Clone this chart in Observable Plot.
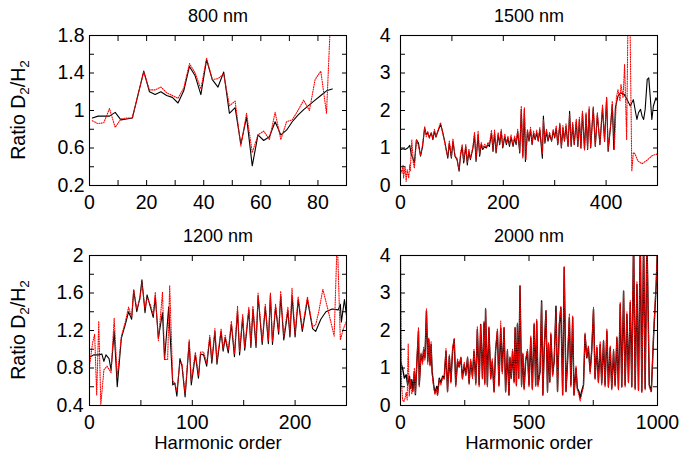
<!DOCTYPE html>
<html><head><meta charset="utf-8">
<script src="https://cdn.jsdelivr.net/npm/d3@7"></script>
<script src="https://cdn.jsdelivr.net/npm/@observablehq/plot@0.6"></script>
<style>
body{margin:0;background:#fff;}
#chart{position:relative;width:692px;height:453px;background:#fff;font-family:"Liberation Sans",Arial,sans-serif;}
#chart svg{position:absolute;left:0;top:0;}
</style></head><body><div id="chart"></div>
<script>
// ---------- DATA ----------
const panelTitles = ["800 nm", "1500 nm", "1200 nm", "2000 nm"];
const yLabelMain = "Ratio D", yLabelSub = "2", yLabelMid = "/H";
const xLabelText = "Harmonic order";

// 800 nm : odd harmonic orders
const harm800 = [1,3,5,7,9,11,13,15,17,19,21,23,25,27,29,31,33,35,37,39,41,43,45,47,49,51,53,55,57,59,61,63,65,67,69,71,73,75,77,79,81,83,85];
const black800 = [0.92,0.94,0.94,0.94,0.98,0.90,0.91,0.92,1.17,1.42,1.20,1.17,1.20,1.16,1.14,1.08,1.21,1.47,1.37,1.17,1.54,1.33,1.25,1.41,0.97,1.03,0.64,0.93,0.41,0.74,0.68,0.72,0.88,0.74,0.79,0.88,0.95,1.01,1.06,1.11,1.16,1.21,1.23];
const red800 = [0.89,0.86,0.87,1.02,0.82,0.91,0.92,0.92,1.17,1.41,1.22,1.22,1.25,1.19,1.16,1.13,1.24,1.50,1.40,1.23,1.56,1.33,1.34,1.39,1.05,1.10,0.62,0.97,0.55,0.74,0.78,0.69,0.98,0.69,0.88,0.90,1.00,1.11,1.00,1.33,1.42,0.97,2.40];

// 1500 nm : [harmonic order, ratio]
const black1500 = [[1,0.96],[5,0.98],[9,0.96],[14,1.0],[18,1.07],[21,0.82],[24,0.73],[27,0.6],[31,1.22],[35,1.13],[39,0.78],[43,1.04],[47,1.54],[50,1.36],[53,1.40],[56,1.29],[60,1.40],[63,1.22],[66,1.45],[69,1.29],[73,1.45],[78,1.63],[82,1.43],[86,1.18],[89,0.96],[92,0.73],[95,1.13],[99,0.73],[102,1.18],[106,0.78],[110,0.69],[114,0.38],[117,0.82],[120,1.04],[123,0.6],[127,1.04],[130,0.55],[133,0.91],[136,0.69],[141,1.0],[144,1.36],[147,0.64],[151,1.36],[154,0.78],[157,1.09],[160,0.96],[164,1.04],[167,1.0],[170,1.09],[173,1.04],[177,1.40],[180,0.91],[183,1.40],[186,0.87],[190,1.36],[193,1.09],[196,1.45],[199,1.0],[203,1.31],[206,1.09],[209,1.27],[212,1.04],[215,1.29],[219,1.04],[222,1.27],[225,1.09],[228,1.45],[232,0.87],[235,2.03],[238,0.78],[241,2.03],[243,0.64],[247,1.45],[250,1.18],[253,1.49],[256,1.09],[259,1.40],[262,1.22],[265,1.40],[268,1.18],[271,1.49],[276,0.73],[278,1.85],[281,1.13],[284,1.45],[287,1.18],[290,1.36],[294,1.18],[297,1.45],[300,1.27],[303,1.54],[306,1.09],[310,1.63],[313,1.0],[316,1.54],[319,1.18],[322,1.58],[326,1.04],[329,1.98],[332,1.04],[335,1.63],[338,1.09],[342,1.71],[345,1.04],[348,1.76],[351,1.0],[354,1.94],[358,0.96],[361,1.89],[364,0.96],[367,2.03],[370,1.0],[375,2.07],[379,1.04],[383,1.89],[388,1.09],[393,2.07],[397,1.18],[401,2.34],[404,0.91],[409,1.63],[412,2.16],[415,0.96],[418,2.07],[423,2.38],[428,2.47],[435,2.43],[441,2.29],[447,2.12],[453,2.29],[457,1.98],[460,1.76],[463,1.94],[467,2.03],[470,1.85],[473,1.76],[476,2.03],[480,2.83],[483,2.87],[486,2.34],[489,1.76],[492,2.12],[497,2.34],[500,2.25]];
const red1500 = [[0,0.46],[3,0.33],[5,0.55],[6,0.2],[9,0.51],[11,0.11],[13,0.42],[16,0.2],[18,0.55],[19,0.38],[22,1.22],[25,0.6],[27,0.46],[31,1.22],[35,1.05],[39,0.8],[43,1.1],[47,1.58],[50,1.30],[53,1.45],[56,1.25],[60,1.42],[63,1.25],[66,1.50],[69,1.30],[73,1.48],[78,1.68],[82,1.40],[86,1.15],[89,0.92],[92,0.78],[95,1.2],[99,0.75],[102,1.25],[106,0.8],[110,0.72],[114,0.42],[117,0.88],[120,1.1],[123,0.65],[127,1.1],[130,0.6],[133,0.98],[136,0.72],[141,1.05],[144,1.42],[147,0.7],[151,1.45],[154,0.82],[157,1.15],[160,1.0],[164,1.1],[167,1.02],[170,1.15],[173,1.1],[177,1.48],[180,0.95],[183,1.48],[186,0.9],[190,1.42],[193,1.12],[196,1.5],[199,1.05],[203,1.38],[206,1.12],[209,1.32],[212,1.08],[215,1.35],[219,1.08],[222,1.32],[225,1.12],[228,1.5],[232,0.9],[235,2.12],[238,0.72],[241,2.08],[244,0.68],[247,1.5],[250,1.22],[253,1.55],[256,1.12],[259,1.45],[262,1.25],[265,1.48],[268,1.2],[271,1.55],[276,0.85],[278,1.75],[281,1.18],[284,1.5],[287,1.22],[290,1.42],[294,1.2],[297,1.5],[300,1.3],[303,1.6],[306,1.1],[310,1.68],[313,1.02],[316,1.6],[319,1.2],[322,1.65],[326,1.05],[329,1.9],[332,1.08],[335,1.7],[338,1.1],[342,1.78],[345,1.05],[348,1.82],[351,1.0],[354,2.0],[358,0.95],[361,1.95],[364,0.98],[367,2.1],[370,1.02],[375,2.1],[379,1.05],[383,1.95],[388,1.1],[393,2.15],[397,1.2],[401,2.35],[404,0.95],[409,1.65],[412,2.25],[416,0.96],[420,2.34],[423,2.56],[427,2.25],[429,2.7],[433,2.34],[436,3.23],[440,1.22],[443,5],[446,5],[450,0.38],[453,0.88],[456,0.85],[462,0.65],[470,0.58],[480,0.68],[490,0.8],[500,0.84]];

// 1200 nm
const black1200 = [[1,0.92],[4,0.94],[9,0.94],[12,0.95],[14,0.87],[16,0.94],[19,0.90],[21,0.78],[24,1.19],[27,0.60],[31,1.12],[35,1.27],[38,1.40],[41,1.32],[43,1.63],[46,1.40],[49,1.55],[51,1.74],[54,1.39],[56,1.58],[59,1.46],[62,1.34],[64,1.56],[67,1.12],[71,1.39],[73,0.89],[77,1.45],[81,0.62],[83,0.64],[85,0.50],[88,0.90],[90,0.82],[93,0.49],[97,1.08],[99,0.62],[103,0.94],[106,0.69],[108,0.95],[111,0.94],[114,0.82],[117,1.12],[119,0.85],[122,1.19],[124,0.84],[128,1.19],[130,0.98],[132,1.12],[135,0.96],[138,1.27],[141,0.92],[144,1.41],[146,0.94],[149,1.34],[151,0.99],[155,1.42],[157,1.02],[159,1.43],[162,1.02],[164,1.57],[168,1.05],[171,1.45],[174,1.06],[176,1.58],[178,1.05],[181,1.45],[184,1.16],[186,1.57],[189,1.10],[193,1.41],[195,1.13],[197,1.57],[200,1.13],[203,1.53],[207,1.19],[212,1.53],[217,1.22],[220,1.19],[225,1.32],[230,1.40],[236,1.43],[242,1.42],[244,1.48],[245,1.29],[248,1.53],[250,1.36]];
const red1200 = [[0,0.82],[3,1.07],[5,1.16],[7,0.51],[9,1.30],[11,0.41],[14,0.78],[17,0.82],[21,0.75],[24,1.33],[27,0.70],[31,1.14],[35,1.30],[38,1.45],[41,1.34],[43,1.64],[46,1.43],[49,1.53],[51,1.71],[54,1.43],[56,1.55],[59,1.48],[62,1.37],[64,1.61],[67,1.09],[71,1.61],[73,0.89],[76,0.89],[78,1.68],[81,0.66],[83,0.64],[85,0.55],[88,0.86],[90,0.85],[93,0.52],[97,1.10],[99,0.66],[103,0.97],[106,0.72],[108,0.97],[111,0.97],[114,0.85],[117,1.15],[119,0.88],[122,1.22],[124,0.87],[128,1.22],[130,1.0],[132,1.15],[135,0.99],[138,1.30],[141,0.95],[144,1.46],[146,0.97],[149,1.37],[151,1.02],[155,1.45],[157,1.05],[159,1.46],[162,1.05],[164,1.60],[168,1.08],[171,1.48],[174,1.09],[176,1.60],[178,1.08],[181,1.48],[184,1.19],[186,1.62],[189,1.13],[193,1.45],[195,1.16],[197,1.65],[200,1.16],[203,1.56],[207,1.22],[212,1.56],[217,1.24],[220,1.26],[223,1.40],[227,1.64],[232,1.42],[238,1.14],[241,2.2],[244,1.10],[247,1.22],[250,1.30]];

// 2000 nm
const black2000 = [[0,1.18],[9,0.96],[15,0.73],[22,0.82],[28,0.55],[35,0.78],[39,0.46],[44,0.69],[48,0.38],[54,0.91],[58,0.29],[64,1.18],[70,1.98],[73,0.55],[80,1.36],[86,1.18],[90,1.49],[95,1.27],[101,2.52],[106,1.18],[110,1.76],[115,1.09],[119,1.63],[123,0.91],[129,0.55],[134,0.33],[141,0.51],[144,0.29],[151,0.73],[157,0.6],[164,0.78],[170,0.73],[177,1.45],[183,0.38],[190,1.31],[196,0.64],[203,1.49],[209,1.76],[215,0.55],[222,1.18],[228,1.04],[235,1.27],[241,0.73],[248,1.09],[254,0.82],[261,1.27],[267,0.6],[273,1.18],[280,0.78],[286,1.45],[293,0.6],[299,2.03],[306,0.55],[312,2.16],[319,0.73],[325,2.2],[328,0.6],[331,2.56],[338,0.55],[344,2.07],[351,0.73],[357,1.18],[364,0.38],[370,1.45],[377,1.98],[383,0.55],[390,2.07],[396,0.91],[403,2.07],[409,0.38],[416,1.45],[422,0.29],[426,1.27],[431,0.73],[436,1.45],[442,0.64],[446,2.07],[451,0.55],[455,2.16],[460,0.73],[465,3.19],[471,0.55],[476,1.36],[481,0.46],[487,1.18],[494,1.45],[500,0.55],[507,1.8],[513,0.46],[520,2.16],[526,0.55],[530,2.25],[535,0.55],[543,0.91],[549,2.79],[554,0.29],[559,1.45],[566,2.52],[572,0.38],[576,1.63],[581,0.64],[585,1.89],[592,0.82],[598,1.18],[605,2.65],[611,0.38],[618,2.16],[624,2.61],[631,0.29],[637,3.68],[644,0.38],[650,1.18],[657,2.34],[663,0.55],[670,2.34],[675,0.29],[683,1.0],[688,0.46],[694,0.38],[699,0.2],[705,0.38],[712,0.55],[718,1.89],[725,1.27],[731,1.54],[738,0.91],[744,1.45],[751,2.56],[757,0.73],[764,1.54],[770,0.64],[777,1.63],[783,0.6],[790,1.71],[796,0.55],[803,1.98],[809,0.51],[816,1.54],[822,0.46],[829,1.45],[835,0.55],[842,1.8],[848,0.46],[855,2.7],[861,0.51],[868,3.05],[874,0.55],[881,2.43],[887,0.64],[894,2.74],[900,0.51],[907,4.5],[913,0.46],[920,3.23],[926,0.42],[933,4.5],[939,0.38],[946,4.5],[952,0.46],[959,4.5],[968,0.55],[976,0.38],[985,1.89],[995,3.23],[1000,4.2]];
const red2000 = [[0,4.5],[4,0.6],[8,0.15],[13,0.1],[18,0.2],[22,0.35],[26,0.15],[30,1.65],[34,0.25],[39,0.7],[44,0.3],[48,0.45],[54,1.0],[58,0.3],[64,1.25],[70,2.08],[73,0.5],[80,1.4],[86,1.1],[90,1.55],[95,1.2],[101,2.58],[106,1.1],[110,1.8],[115,1.05],[119,1.7],[123,0.85],[129,0.5],[134,0.3],[141,0.45],[144,0.25],[151,0.7],[157,0.55],[164,0.75],[170,0.7],[177,1.52],[183,0.35],[190,1.35],[196,0.6],[203,1.55],[209,1.8],[215,0.5],[222,1.25],[228,1.0],[235,1.3],[241,0.7],[248,1.15],[254,0.78],[261,1.3],[267,0.55],[273,1.25],[280,0.72],[286,1.5],[293,0.55],[299,2.1],[306,0.5],[312,2.15],[319,0.7],[325,2.25],[328,0.55],[331,2.6],[338,0.5],[344,2.1],[351,0.7],[357,1.25],[364,0.35],[370,1.5],[377,2.05],[383,0.5],[390,2.25],[396,0.85],[403,2.1],[409,0.35],[416,1.5],[422,0.27],[426,1.3],[431,0.7],[436,1.5],[442,0.6],[446,2.1],[451,0.5],[455,2.2],[460,0.7],[465,3.2],[471,0.5],[476,1.4],[481,0.42],[487,1.25],[494,1.5],[500,0.5],[507,1.85],[513,0.42],[520,2.2],[526,0.5],[530,2.3],[535,0.5],[543,0.95],[549,2.75],[554,0.27],[559,1.5],[566,2.55],[572,0.35],[576,1.68],[581,0.6],[585,1.95],[592,0.78],[598,1.25],[605,2.5],[611,0.35],[618,2.2],[624,2.65],[631,0.27],[637,3.7],[644,0.35],[650,1.25],[657,2.45],[663,0.5],[670,2.4],[675,0.27],[683,1.05],[688,0.42],[694,0.3],[699,0.12],[705,0.3],[712,0.5],[718,1.95],[725,1.3],[731,1.6],[738,0.85],[744,1.5],[751,2.62],[757,0.7],[764,1.6],[770,0.6],[777,1.7],[783,0.55],[790,1.75],[796,0.5],[803,2.05],[809,0.48],[816,1.6],[822,0.42],[829,1.5],[835,0.5],[842,1.85],[848,0.42],[855,2.75],[861,0.48],[868,3.05],[874,0.5],[881,2.5],[887,0.6],[894,2.8],[900,0.48],[907,4.5],[913,0.42],[920,3.3],[926,0.4],[933,4.5],[939,0.35],[946,4.5],[952,0.42],[959,4.5],[968,0.5],[976,0.35],[985,1.95],[995,3.3],[1000,4.3]];

// tick values
const xTicks800 = [0,10,20,30,40,50,60,70,80,90], xLabels800 = [0,20,40,60,80];
const yTicks800 = [0.2,0.4,0.6,0.8,1,1.2,1.4,1.6,1.8], yLabels800 = [0.2,0.6,1,1.4,1.8];
const xTicks1500 = [0,100,200,300,400,500], xLabels1500 = [0,200,400];
const yTicks1500 = [0,0.5,1,1.5,2,2.5,3,3.5,4], yLabels1500 = [0,1,2,3,4];
const xTicks1200 = [0,50,100,150,200,250], xLabels1200 = [0,100,200];
const yTicks1200 = [0.4,0.6,0.8,1,1.2,1.4,1.6,1.8,2], yLabels1200 = [0.4,0.8,1.2,1.6,2];
const xTicks2000 = [0,250,500,750,1000], xLabels2000 = [0,500,1000];
const yTicks2000 = [0,0.5,1,1.5,2,2.5,3,3.5,4], yLabels2000 = [0,1,2,3,4];

// ---------- DRAW ----------
const W = 692, H = 453;
const FONT = "'Liberation Sans', Arial, Helvetica, sans-serif";
const TICK_FS = 19.5, TITLE_FS = 18, LABEL_FS = 18.5;
const toObj = (arr) => arr.map(([x, y]) => ({x, y}));

function panel(c) {
  const marks = [
    Plot.line(c.black, {x: "x", y: "y", stroke: "black", strokeWidth: c.bw || 1.1, clip: true}),
    Plot.line(c.red, {x: "x", y: "y", stroke: "#ff0000", strokeWidth: 1.1, strokeDasharray: "1,1.4", clip: true}),
    Plot.frame({stroke: "black", strokeWidth: 1.1}),
    Plot.axisX(c.xTicks, {anchor: "bottom", tickSize: -5, fill: "none", label: null}),
    Plot.axisX(c.xTicks, {anchor: "top", tickSize: -5, fill: "none", label: null}),
    Plot.axisY(c.yTicks, {anchor: "left", tickSize: -5, fill: "none", label: null}),
    Plot.axisY(c.yTicks, {anchor: "right", tickSize: -5, fill: "none", label: null}),
    Plot.axisX(c.xLabels, {anchor: "bottom", tickSize: 0, tickPadding: 10, label: null, tickFormat: d => String(d), fontSize: TICK_FS}),
    Plot.axisY(c.yLabels, {anchor: "left", tickSize: 0, tickPadding: c.yPad, label: null, tickFormat: d => String(d), fontSize: TICK_FS}),
    Plot.text([c.title], {frameAnchor: "top", dy: -14, lineAnchor: "bottom", fontSize: TITLE_FS, fill: "black"})
  ];
  if (c.xLabel) marks.push(Plot.text([xLabelText], {frameAnchor: "bottom", dy: 43, lineAnchor: "bottom", fontSize: LABEL_FS, fill: "black"}));
  const svg = Plot.plot({
    width: W, height: H,
    marginLeft: c.left, marginRight: W - c.right, marginTop: c.top, marginBottom: H - c.bottom,
    x: {domain: c.xDomain}, y: {domain: c.yDomain},
    style: {background: "transparent", fontFamily: FONT, fontSize: "18px", color: "black", overflow: "visible"},
    marks
  });
  if (c.yLabel) {
    const t = d3.select(svg).append("text")
      .attr("transform", `translate(25,${(c.top + c.bottom) / 2}) rotate(-90)`)
      .attr("text-anchor", "middle").attr("font-size", 19.5).attr("fill", "black").attr("font-family", FONT);
    t.append("tspan").text(yLabelMain);
    t.append("tspan").attr("font-size", 13.5).attr("dy", 4).text(yLabelSub);
    t.append("tspan").attr("dy", -4).text(yLabelMid);
    t.append("tspan").attr("font-size", 13.5).attr("dy", 4).text(yLabelSub);
  }
  document.getElementById("chart").appendChild(svg);
}

panel({title: panelTitles[0], left: 89, right: 346, top: 35, bottom: 185,
  xDomain: [0, 90], yDomain: [0.2, 1.8], xTicks: xTicks800, xLabels: xLabels800, yTicks: yTicks800, yLabels: yLabels800,
  black: harm800.map((x, i) => ({x, y: black800[i]})), red: harm800.map((x, i) => ({x, y: red800[i]})),
  yPad: 5, yLabel: true});
panel({title: panelTitles[1], left: 400, right: 657, top: 35, bottom: 185,
  xDomain: [0, 500], yDomain: [0, 4], xTicks: xTicks1500, xLabels: xLabels1500, yTicks: yTicks1500, yLabels: yLabels1500,
  black: toObj(black1500), red: toObj(red1500), yPad: 10});
panel({title: panelTitles[2], left: 89, right: 346, top: 255, bottom: 405,
  xDomain: [0, 250], yDomain: [0.4, 2], xTicks: xTicks1200, xLabels: xLabels1200, yTicks: yTicks1200, yLabels: yLabels1200,
  black: toObj(black1200), red: toObj(red1200), yPad: 6, yLabel: true, xLabel: true});
panel({title: panelTitles[3], left: 400, right: 657, top: 255, bottom: 405,
  xDomain: [0, 1000], yDomain: [0, 4], xTicks: xTicks2000, xLabels: xLabels2000, yTicks: yTicks2000, yLabels: yLabels2000,
  black: toObj(black2000), red: toObj(red2000), yPad: 10, xLabel: true, bw: 1.4});
</script></body></html>
